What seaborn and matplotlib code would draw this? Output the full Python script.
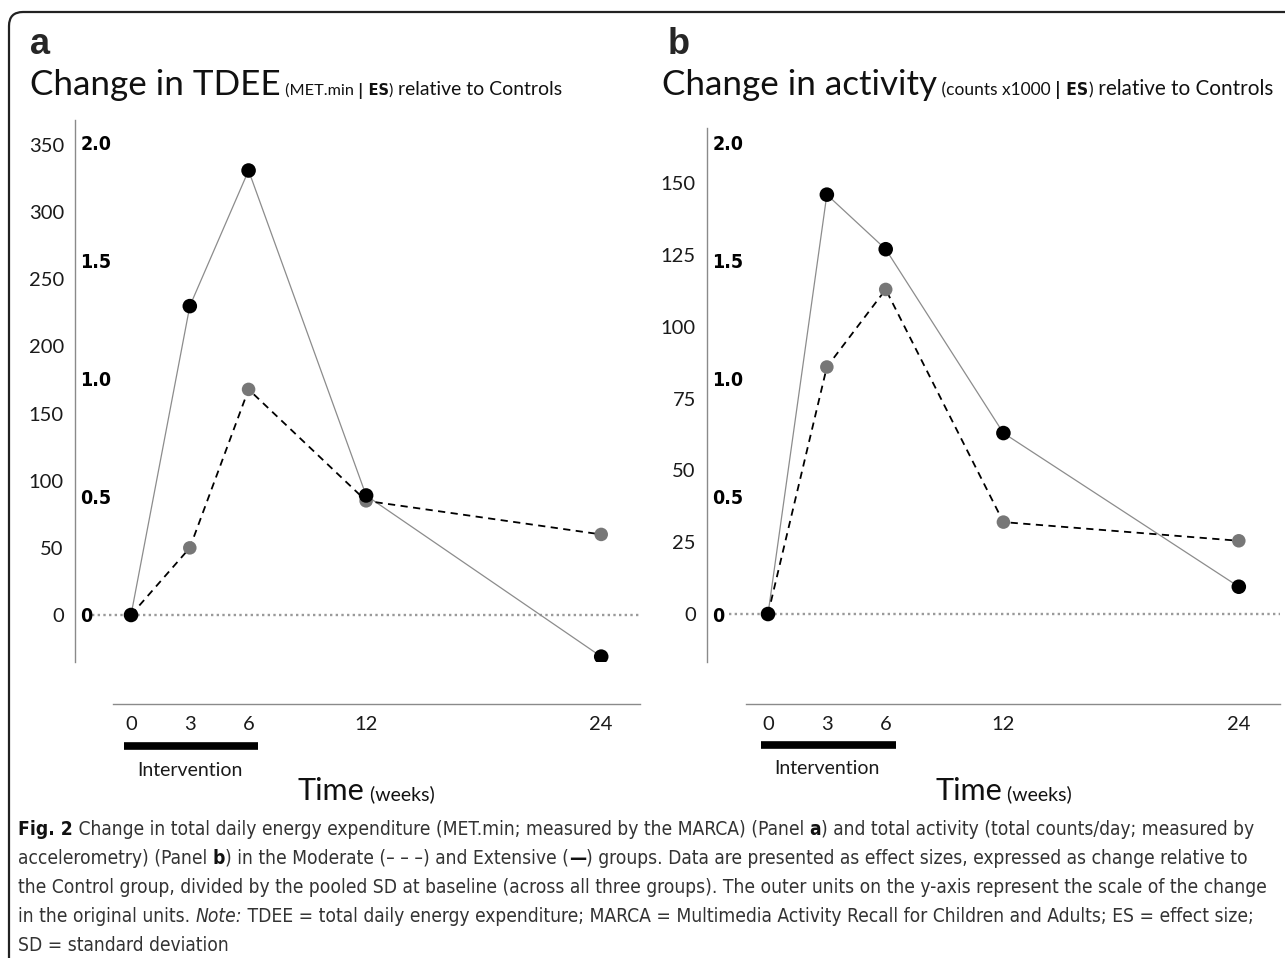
import numpy as np
import pandas as pd
import seaborn as sns
import matplotlib.pyplot as plt
import matplotlib.transforms as mtransforms
from matplotlib.patches import FancyBboxPatch

# values (outer units), weeks on the x axis
weeks = [0, 3, 6, 12, 24]
week_labels = ['0', '3', '6', '12', '24']
tdee_extensive = [0, 230, 331, 89, -31]
tdee_moderate = [0, 50, 168, 85, 60]
activity_extensive = [0, 146, 127, 63, 9.5]
activity_moderate = [0, 86, 113, 32, 25.5]
tdee_ticks = [0, 50, 100, 150, 200, 250, 300, 350]
activity_ticks = [0, 25, 50, 75, 100, 125, 150]
es_ticks = [0, 0.5, 1.0, 1.5, 2.0]
es_labels = ['0', '0.5', '1.0', '1.5', '2.0']
tdee_per_es = 176      # MET.min per 1 ES
activity_per_es = 82   # counts x1000 per 1 ES

W, H = 1285, 958
LIGHT = ['Lato', 'DejaVu Sans']
NARROW = ['DejaVu Sans']

sns.set_theme(style='white')
plt.rcParams['font.family'] = LIGHT


def px_axes(left, top, right, bottom):
    return [left / W, 1 - bottom / H, (right - left) / W, (bottom - top) / H]


def draw_panel(ax, ext, mod, unit_ticks, per_es, ylim, xlim, line_start):
    df = pd.DataFrame({'week': weeks * 2, 'value': ext + mod,
                       'group': ['Extensive'] * 5 + ['Moderate'] * 5})
    df_ext = df[df['group'] == 'Extensive']
    df_mod = df[df['group'] == 'Moderate']

    ax.hlines(0, -2, xlim[1], colors='#9a9a9a', linestyles=(0, (1, 1.4)),
              lw=1.7, zorder=1)
    sns.lineplot(data=df_ext, x='week', y='value', color='#8c8c8c', lw=0.9,
                 ax=ax, zorder=2)
    sns.lineplot(data=df_mod, x='week', y='value', color='black', lw=1.3,
                 linestyle=(0, (4, 3)), ax=ax, zorder=2)
    sns.scatterplot(data=df_mod, x='week', y='value', color='#777777', s=95,
                    edgecolor='none', ax=ax, zorder=3)
    sns.scatterplot(data=df_ext, x='week', y='value', color='black', s=110,
                    edgecolor='none', ax=ax, zorder=4)

    ax.set_xlim(xlim)
    ax.set_ylim(ylim)
    ax.set_xlabel('')
    ax.set_ylabel('')
    ax.set_xticks(weeks, week_labels)
    ax.set_yticks(unit_ticks)
    ax.tick_params(axis='y', length=0, pad=8, labelsize=14.5, labelcolor='#1a1a1a')
    ax.tick_params(axis='x', length=0, pad=9, labelsize=14.5, labelcolor='#1a1a1a')
    ax.spines['top'].set_visible(False)
    ax.spines['right'].set_visible(False)
    ax.spines['left'].set_color('#8a8a8a')
    ax.spines['left'].set_linewidth(1.0)
    ax.spines['bottom'].set_color('#8a8a8a')
    ax.spines['bottom'].set_linewidth(1.0)
    ax.spines['bottom'].set_position(('outward', 30))
    ax.spines['bottom'].set_bounds(line_start, xlim[1])

    # effect-size scale, labels just right of the left spine
    ax2 = ax.twinx()
    ax2.set_ylim(ylim[0] / per_es, ylim[1] / per_es)
    for s in ['top', 'left', 'bottom', 'right']:
        ax2.spines[s].set_visible(False)
    ax2.spines['right'].set_position(('axes', 0))
    ax2.set_yticks(es_ticks, es_labels)
    ax2.tick_params(axis='y', length=0, pad=4, labelsize=14, labelcolor='black')
    for lab in ax2.get_yticklabels():
        lab.set_fontweight('bold')
        lab.set_family(NARROW)
        lab.set_fontstretch('condensed')
    ax2.grid(False)

    # intervention bar under weeks 0-6
    trans = mtransforms.blended_transform_factory(ax.transData, ax.transAxes)
    ax.plot([-0.35, 6.5], [-0.155, -0.155], color='black', lw=5.5,
            solid_capstyle='butt', transform=trans, clip_on=False)
    ax.text(3, -0.21, 'Intervention', transform=trans, ha='center',
            va='baseline', fontsize=14, color='#1a1a1a')


def advance(fig, renderer, text, **kw):
    a = fig.text(0, 0, 'x' + text + 'x', **kw)
    b = fig.text(0, 0, 'xx', **kw)
    w = a.get_window_extent(renderer).width - b.get_window_extent(renderer).width
    a.remove()
    b.remove()
    return w


def fit_runs(fig, renderer, runs, target):
    total = sum(advance(fig, renderer, t, **kw) for t, kw in runs)
    k = target / total
    return [(t, {**kw, 'size': kw['size'] * k}) for t, kw in runs]


def place_runs(fig, renderer, x, baseline, runs):
    for t, kw in runs:
        fig.text(x, H - baseline, t, transform=mtransforms.IdentityTransform(),
                 va='baseline', ha='left', **kw)
        x += advance(fig, renderer, t, **kw)
    return x


fig = plt.figure(figsize=(W / 100, H / 100), dpi=100)
ax_a = fig.add_axes(px_axes(75, 120, 640, 662))
ax_b = fig.add_axes(px_axes(707, 128, 1280, 662))

draw_panel(ax_a, tdee_extensive, tdee_moderate, tdee_ticks, tdee_per_es,
           (-35, 368.6), (-2.86, 25.98), -0.92)
draw_panel(ax_b, activity_extensive, activity_moderate, activity_ticks,
           activity_per_es, (-16.7, 169.2), (-3.11, 26.1), -1.1)

r = fig.canvas.get_renderer()

big = dict(size=24, family=LIGHT, color='#111')
paren = dict(size=13, family=LIGHT, color='#111')
parenb = dict(size=13, fontweight='bold', family=NARROW, fontstretch='condensed',
              color='#111')
rel = dict(size=15.5, family=LIGHT, color='#111')

# panel letters
fig.text(30, H - 54, 'a', transform=mtransforms.IdentityTransform(),
         fontsize=26, fontweight='bold', family=['Liberation Sans', 'DejaVu Sans'])
fig.text(668, H - 54, 'b', transform=mtransforms.IdentityTransform(),
         fontsize=26, fontweight='bold', family=['Liberation Sans', 'DejaVu Sans'])

head_a = fit_runs(fig, r, [('Change in TDEE', big)], 250)
big_fit = head_a[0][1]
rest_a = fit_runs(fig, r, [(' (MET.min ', paren), ('| ES', parenb), (')', paren),
                           (' relative to Controls', rel)], 280)
x = place_runs(fig, r, 30, 95, head_a)
place_runs(fig, r, x, 95, rest_a)

x = place_runs(fig, r, 662, 95, [('Change in activity', big_fit)])
rest_b = fit_runs(fig, r, [(' (counts x1000 ', paren), ('| ES', parenb), (')', paren),
                           (' relative to Controls', rel)], 1272 - x)
place_runs(fig, r, x, 95, rest_b)

# x axis titles
time_runs = [('Time', dict(size=22, family=LIGHT, color='#111')),
             (' (weeks)', dict(size=14, family=LIGHT, color='#111'))]
tw = sum(advance(fig, r, t, **kw) for t, kw in time_runs)
for ax in (ax_a, ax_b):
    cx = ax.transData.transform((12, 0))[0]
    place_runs(fig, r, cx - tw / 2, 800, time_runs)

# caption
reg = dict(size=13, family=NARROW, fontstretch='condensed', color='#333')
bold = dict(size=13, family=NARROW, fontstretch='condensed', color='#111',
            fontweight='bold')
ital = dict(size=13, family=NARROW, fontstretch='condensed', color='#333',
            fontstyle='italic')
line3 = [('the Control group, divided by the pooled SD at baseline (across all three '
          'groups). The outer units on the y-axis represent the scale of the change', reg)]
cap_size = fit_runs(fig, r, line3, 1247)[0][1]['size']
reg['size'] = bold['size'] = ital['size'] = cap_size
caption = [
    [('Fig. 2', bold),
     (' Change in total daily energy expenditure (MET.min; measured by the MARCA) (Panel ', reg),
     ('a', bold), (') and total activity (total counts/day; measured by', reg)],
    [('accelerometry) (Panel ', reg), ('b', bold),
     (') in the Moderate (– – –) and Extensive (', reg), ('—', bold),
     (') groups. Data are presented as effect sizes, expressed as change relative to', reg)],
    line3,
    [('in the original units. ', reg), ('Note:', ital),
     (' TDEE = total daily energy expenditure; MARCA = Multimedia Activity Recall '
      'for Children and Adults; ES = effect size;', reg)],
    [('SD = standard deviation', reg)],
]
for i, runs in enumerate(caption):
    place_runs(fig, r, 18, 835 + 29 * i, runs)

# frame around the figure, open to the right and bottom
frame = FancyBboxPatch((9, -40), 1330, H - 12 + 40, boxstyle='round,pad=0,rounding_size=14',
                       transform=mtransforms.IdentityTransform(), fill=False,
                       edgecolor='#222', lw=1.6)
fig.add_artist(frame)

fig.savefig('out.png', dpi=100)
